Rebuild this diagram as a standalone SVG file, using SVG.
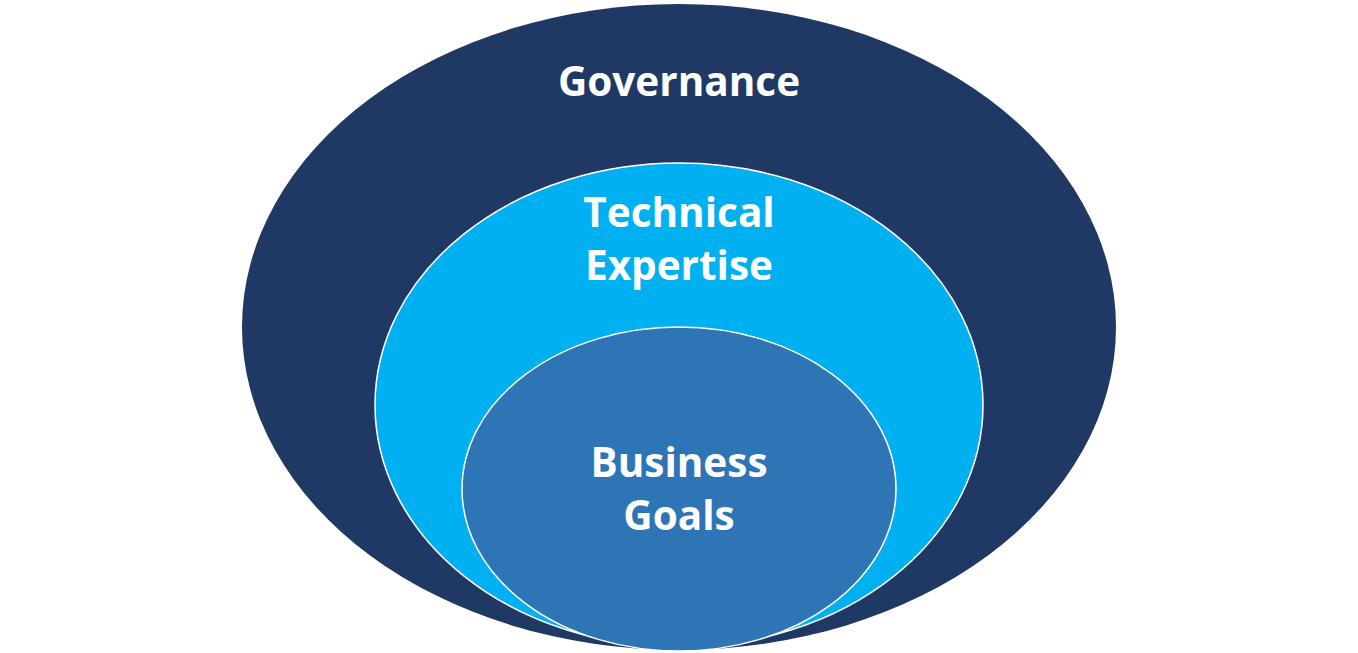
<svg xmlns="http://www.w3.org/2000/svg" width="1358" height="653" viewBox="0 0 1358 653">
<style>
.lbl{font-family:"Open Sans","Liberation Sans",sans-serif;font-weight:bold;font-size:40.5px;fill:#ffffff;text-anchor:middle}
</style>
<rect width="1358" height="653" fill="#ffffff"/>
<g id="governance">
<ellipse cx="679" cy="327" rx="437" ry="323" fill="#203864"/>
<text class="lbl" x="679" y="96">Governance</text>
</g>
<g id="technical-expertise">
<ellipse cx="679" cy="405" rx="304" ry="242" fill="#00B0F0" stroke="#ffffff" stroke-width="1.5"/>
<text class="lbl" x="679" y="227">Technical</text>
<text class="lbl" x="679" y="280">Expertise</text>
</g>
<g id="business-goals">
<ellipse cx="679" cy="489" rx="217" ry="162" fill="#2E75B6" stroke="#ffffff" stroke-width="1.5"/>
<text class="lbl" x="679" y="477">Business</text>
<text class="lbl" x="679" y="530">Goals</text>
</g>
<g id="connectors"/>
</svg>
